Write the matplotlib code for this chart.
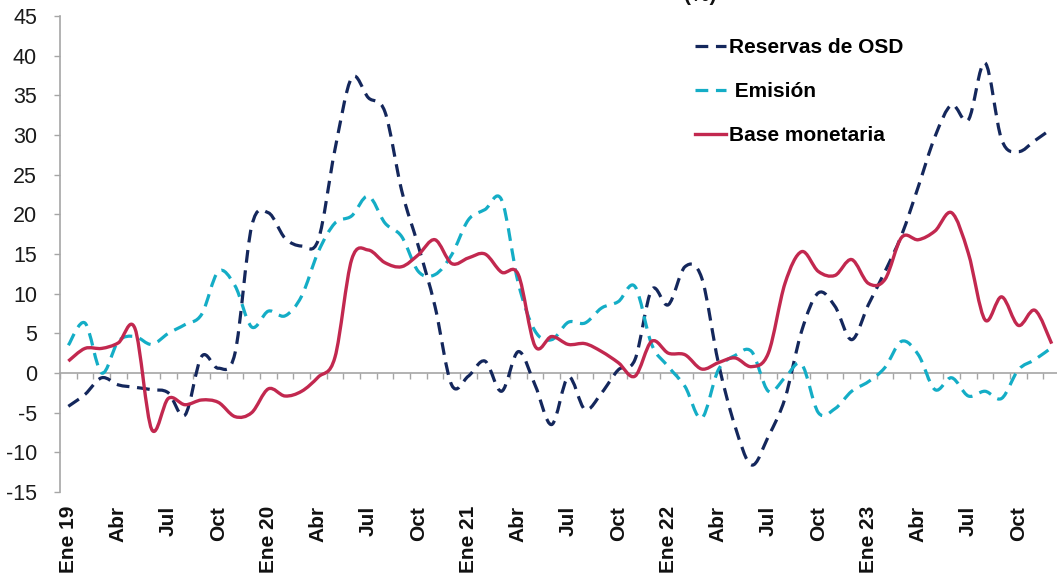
import numpy as np
import matplotlib
matplotlib.use("Agg")
import matplotlib.pyplot as plt
from matplotlib.path import Path
from matplotlib.patches import PathPatch
from matplotlib.lines import Line2D

plt.rcParams['font.family'] = ['Liberation Sans', 'DejaVu Sans']
plt.rcParams['axes.unicode_minus'] = False

# ---------------- data ----------------
tick_labels = ['Ene 19', 'Abr', 'Jul', 'Oct',
               'Ene 20', 'Abr', 'Jul', 'Oct',
               'Ene 21', 'Abr', 'Jul', 'Oct',
               'Ene 22', 'Abr', 'Jul', 'Oct',
               'Ene 23', 'Abr', 'Jul', 'Oct']

reservas_osd = [-4.2, -2.7, -0.6, -1.5, -1.8, -2.1, -2.5, -5.3, 2.1, 0.6,
                2.5, 18.5, 20.2, 17.0, 16.0, 16.8, 28.2, 37.2, 34.7, 32.9,
                23.0, 16.0, 8.4, -1.5, -0.4, 1.5, -2.3, 2.7, -1.5, -6.5,
                -0.5, -4.6, -2.5, 0.4, 1.7, 10.5, 8.6, 13.4, 12.0, 1.3,
                -6.7, -11.6, -8.0, -3.2, 5.3, 10.1, 8.4, 4.2, 8.6, 12.8,
                17.4, 23.5, 29.8, 33.8, 31.9, 39.1, 29.4, 27.9, 29.3, 30.8]

emision = [3.5, 6.3, 0.0, 4.0, 4.6, 3.6, 5.0, 6.1, 7.4, 12.8,
           11.0, 5.8, 7.8, 7.2, 9.7, 15.3, 18.9, 19.8, 22.3, 18.9,
           17.2, 12.8, 12.4, 14.9, 19.3, 20.6, 21.8, 11.3, 5.3, 4.2,
           6.4, 6.3, 8.2, 9.0, 10.9, 3.6, 0.8, -1.7, -5.7, 0.4,
           2.2, 2.7, -2.3, -0.6, 1.1, -5.0, -4.5, -2.3, -1.1, 0.7,
           4.0, 2.3, -2.1, -0.6, -2.9, -2.3, -3.2, 0.4, 1.7, 3.2]

base_monetaria = [1.5, 3.1, 3.1, 3.8, 5.6, -7.1, -3.2, -4.0, -3.4, -3.7,
                  -5.5, -5.0, -2.0, -2.9, -2.3, -0.5, 2.0, 14.3, 15.5, 13.9,
                  13.4, 14.9, 16.8, 13.8, 14.5, 15.0, 12.7, 12.4, 3.4, 4.6,
                  3.6, 3.7, 2.7, 1.3, -0.4, 4.0, 2.5, 2.3, 0.5, 1.3,
                  1.9, 0.8, 2.5, 11.3, 15.3, 12.8, 12.3, 14.3, 11.3, 11.8,
                  17.1, 16.8, 17.9, 20.2, 15.1, 6.7, 9.6, 6.0, 7.9, 3.7]

series_names = ['Reservas de OSD', ' Emisión', 'Base monetaria']
colors = ['#14275c', '#14adc6', '#c2284f']

# ---------------- helpers ----------------
def smooth_path(y):
    """Excel-like smoothed line through the data points (Bezier in data coords)."""
    x = np.arange(len(y), dtype=float)
    y = np.asarray(y, dtype=float)
    n = len(y)
    verts = [(x[0], y[0])]
    codes = [Path.MOVETO]
    for i in range(n - 1):
        a = i - 1 if i > 0 else i
        b = i + 2 if i + 2 < n else i + 1
        c1 = (x[i] + (x[i + 1] - x[a]) / 6.0, y[i] + (y[i + 1] - y[a]) / 6.0)
        c2 = (x[i + 1] - (x[b] - x[i]) / 6.0, y[i + 1] - (y[b] - y[i]) / 6.0)
        verts += [c1, c2, (x[i + 1], y[i + 1])]
        codes += [Path.CURVE4] * 3
    return Path(verts, codes)

# ---------------- figure ----------------
W, H = 1057, 579
fig = plt.figure(figsize=(W / 100, H / 100), dpi=100)
ax = fig.add_axes([60 / W, (H - 492) / H, 1000 / W, 476 / H])

n = len(base_monetaria)
ax.set_xlim(-0.5, n - 0.5)
ax.set_ylim(-15, 45)

dash = (0, (4.0, 2.4))
styles = [dict(ls=dash, lw=2.3), dict(ls=dash, lw=2.3), dict(ls='-', lw=2.4)]
data = [reservas_osd, emision, base_monetaria]
for vals, col, st in zip(data, colors, styles):
    patch = PathPatch(smooth_path(vals), fill=False, edgecolor=col,
                      linewidth=st['lw'], linestyle=st['ls'],
                      capstyle='butt', joinstyle='round', zorder=3)
    ax.add_patch(patch)

# spines
grey = '#a6a6a6'
ax.spines['top'].set_visible(False)
ax.spines['right'].set_visible(False)
ax.spines['left'].set_color(grey)
ax.spines['bottom'].set_color(grey)
ax.spines['bottom'].set_position(('data', 0))
ax.spines['left'].set_linewidth(1.2)
ax.spines['bottom'].set_linewidth(1.2)

# y axis
ax.set_yticks(np.arange(-15, 46, 5))
ax.tick_params(axis='y', direction='out', length=4.5, width=1.0, color=grey,
               labelsize=15.5, pad=12, labelcolor='#1a1a1a')

# x axis: boundary ticks on the zero line
ax.set_xticks(np.arange(-0.5, n, 1.0))
ax.set_xticklabels([])
ax.tick_params(axis='x', direction='out', length=4, width=1.0, color=grey)

# x labels at the bottom
sec = ax.secondary_xaxis(0)
sec.set_xticks(np.arange(0, n, 3), tick_labels)
sec.spines['bottom'].set_visible(False)
sec.tick_params(axis='x', length=0, pad=10, labelsize=15, labelcolor='#111111')
for lab in sec.get_xticklabels():
    lab.set_rotation(90)
    lab.set_fontweight('bold')
    lab.set_ha('center')
    lab.set_va('top')

# legend
handles = [Line2D([], [], color=colors[0], lw=2.3, ls=dash),
           Line2D([], [], color=colors[1], lw=2.3, ls=dash),
           Line2D([], [], color=colors[2], lw=2.4, ls='-')]
leg = fig.legend(handles, series_names, loc='upper left',
                 bbox_to_anchor=(695 / W, 1 - 38 / H),
                 bbox_transform=fig.transFigure, frameon=False,
                 prop={'size': 15, 'weight': 'bold'},
                 handlelength=1.5, handletextpad=0.15, labelspacing=1.2,
                 borderpad=0, borderaxespad=0)

# partially visible title
fig.text(700 / W, 1 - 5 / H, '(%)', ha='center', va='bottom',
         fontsize=15, fontweight='bold', color='#111111')

fig.savefig('out.png', dpi=100)
